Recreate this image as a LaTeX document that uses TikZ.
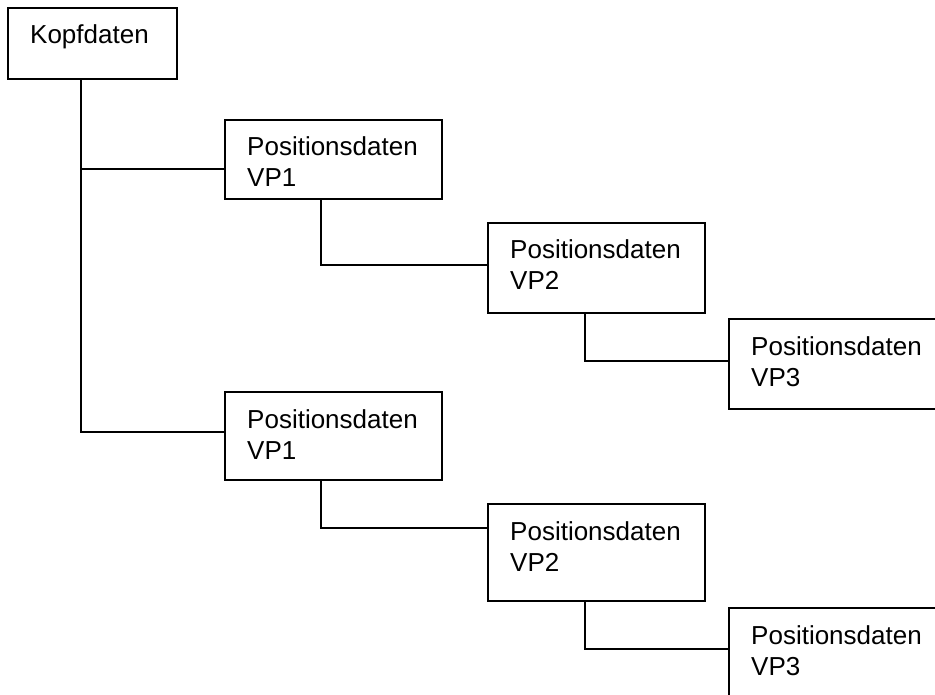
\documentclass[tikz,border=0pt]{standalone}
\usepackage{fontspec}
\setmainfont{Liberation Sans}
\usetikzlibrary{calc}
\begin{document}
\begin{tikzpicture}[x=1pt,y=-1pt,
  box/.style={draw,line width=1.8pt,rectangle,inner sep=0pt,outer sep=0pt,anchor=north west},
  lbl/.style={anchor=base west,inner sep=0pt,font=\fontsize{26}{31}\selectfont,align=left},
  conn/.style={line width=1.8pt}]
\useasboundingbox (0,0) rectangle (935,695);
\clip (0,0) rectangle (935,695);
\fill[white] (0,0) rectangle (935,695);
% boxes
\node[box,minimum width=169pt,minimum height=71pt] (kopf) at (8,8) {};
\node[box,minimum width=217pt,minimum height=79pt] (a1) at (225,120) {};
\node[box,minimum width=217pt,minimum height=90pt] (a2) at (488,223) {};
\node[box,minimum width=217pt,minimum height=90pt] (a3) at (729,319) {};
\node[box,minimum width=217pt,minimum height=88pt] (b1) at (225,392) {};
\node[box,minimum width=217pt,minimum height=97pt] (b2) at (488,504) {};
\node[box,minimum width=217pt,minimum height=90pt] (b3) at (729,608) {};
% texts (base west of a two-line node is the baseline of its last line)
\node[lbl] (tkopf) at ($(kopf.north west)+(22,36)$) {Kopfdaten};
\node[lbl] (ta1) at ($(a1.north west)+(22,67)$) {Positionsdaten\\VP1};
\node[lbl] (ta2) at ($(a2.north west)+(22,67)$) {Positionsdaten\\VP2};
\node[lbl] (ta3) at ($(a3.north west)+(22,67)$) {Positionsdaten\\VP3};
\node[lbl] (tb1) at ($(b1.north west)+(22,67)$) {Positionsdaten\\VP1};
\node[lbl] (tb2) at ($(b2.north west)+(22,67)$) {Positionsdaten\\VP2};
\node[lbl] (tb3) at ($(b3.north west)+(22,67)$) {Positionsdaten\\VP3};
% connector end points
\coordinate (kx) at ($(kopf.south west)+(73,0)$);
\coordinate (a1in) at ($(a1.north west)+(0,49)$);
\coordinate (b1in) at ($(b1.north west)+(0,40)$);
\coordinate (a2in) at ($(a2.north west)+(0,42)$);
\coordinate (a3in) at ($(a3.north west)+(0,42)$);
\coordinate (b2in) at ($(b2.north west)+(0,24)$);
\coordinate (b3in) at ($(b3.north west)+(0,41)$);
% connectors
\draw[conn] (kx) |- (b1in);
\draw[conn] (kx |- a1in) -- (a1in);
\draw[conn] ($(a1.south west)+(96,0)$) |- (a2in);
\draw[conn] ($(a2.south west)+(97,0)$) |- (a3in);
\draw[conn] ($(b1.south west)+(96,0)$) |- (b2in);
\draw[conn] ($(b2.south west)+(97,0)$) |- (b3in);
\end{tikzpicture}
\end{document}
